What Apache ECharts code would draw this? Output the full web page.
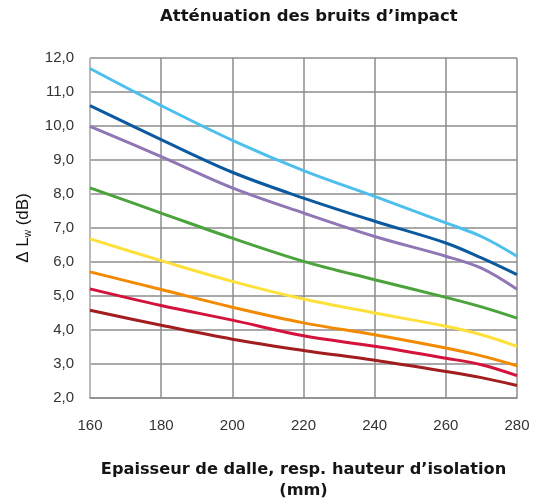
<!DOCTYPE html>
<html>
<head>
<meta charset="utf-8">
<script src="https://cdn.jsdelivr.net/npm/echarts@6/dist/echarts.min.js"></script>
<style>
  html, body { margin: 0; padding: 0; background: #fff; }
  #chart { width: 546px; height: 501px; }
</style>
</head>
<body>
<div id="chart"></div>
<script>
// Slab thickness / insulation height (mm)
const thickness = [160, 180, 200, 220, 240, 260, 270, 280];

// Impact sound reduction ΔLw (dB) per curve
const curveSky    = [11.69, 10.60, 9.58, 8.69, 7.93, 7.15, 6.75, 6.17];
const curveNavy   = [10.60, 9.60, 8.64, 7.88, 7.20, 6.56, 6.12, 5.63];
const curvePurple = [9.99, 9.10, 8.18, 7.44, 6.75, 6.17, 5.82, 5.20];
const curveGreen  = [8.18, 7.44, 6.70, 6.02, 5.48, 4.96, 4.68, 4.35];
const curveYellow = [6.68, 6.04, 5.43, 4.91, 4.50, 4.11, 3.86, 3.52];
const curveOrange = [5.71, 5.19, 4.67, 4.21, 3.86, 3.47, 3.24, 2.95];
const curveRed    = [5.21, 4.72, 4.29, 3.83, 3.52, 3.17, 2.98, 2.66];
const curveBrown  = [4.58, 4.14, 3.73, 3.40, 3.11, 2.78, 2.60, 2.37];

const curves = [
  { values: curveSky,    color: '#4cbfec' },
  { values: curveNavy,   color: '#0b5aa0' },
  { values: curvePurple, color: '#8f77b5' },
  { values: curveGreen,  color: '#4aa33b' },
  { values: curveYellow, color: '#fde13a' },
  { values: curveOrange, color: '#f28a00' },
  { values: curveRed,    color: '#d3133b' },
  { values: curveBrown,  color: '#a11d1f' }
];

const chart = echarts.init(document.getElementById('chart'), null, { renderer: 'canvas' });

const gridLine = { show: true, lineStyle: { color: '#8c8c8c', width: 1.5 } };

chart.setOption({
  animation: false,
  // title centred over the plotting area
  title: {
    text: 'Atténuation des bruits d’impact',
    left: 155,
    top: 3,
    textStyle: { fontFamily: 'DejaVu Sans', fontWeight: 'bold', fontSize: 16.5, color: '#151515' }
  },
  grid: { left: 90, right: 29, top: 58, bottom: 103, outerBoundsMode: 'none' },
  xAxis: {
    type: 'value',
    min: 160, max: 280, interval: 20,
    name: 'Epaisseur de dalle, resp. hauteur d’isolation\n(mm)',
    nameLocation: 'middle',
    nameGap: 61,
    nameTextStyle: { fontFamily: 'DejaVu Sans', fontWeight: 'bold', fontSize: 16.2, color: '#151515', lineHeight: 21 },
    axisLine: { show: true, lineStyle: { color: '#8c8c8c', width: 1.5 } },
    axisTick: { show: false },
    axisLabel: { fontFamily: 'Liberation Sans', fontSize: 15, color: '#333', margin: 20 },
    splitLine: gridLine
  },
  yAxis: {
    type: 'value',
    min: 2, max: 12, interval: 1,
    name: '{d|Δ L}{s|w}{d| (dB)}',
    nameLocation: 'middle',
    nameGap: 57,
    nameRotate: 90,
    nameTextStyle: {
      rich: {
        d: { fontFamily: 'Liberation Sans', fontSize: 17, color: '#111' },
        s: { fontFamily: 'Liberation Sans', fontSize: 10, color: '#111', verticalAlign: 'bottom', padding: [9, 0, 0, 0] }
      }
    },
    axisLine: { show: true, lineStyle: { color: '#c0c0c0', width: 1.5 } },
    axisTick: { show: false },
    axisLabel: {
      fontFamily: 'Liberation Sans', fontSize: 15, color: '#333', margin: 16,
      formatter: v => v.toFixed(1).replace('.', ',')
    },
    splitLine: gridLine
  },
  series: curves.map(c => ({
    type: 'line',
    smooth: 0.35,
    symbol: 'none',
    data: thickness.map((t, i) => [t, c.values[i]]),
    lineStyle: { color: c.color, width: 3 },
    z: 3
  }))
});
</script>
</body>
</html>
